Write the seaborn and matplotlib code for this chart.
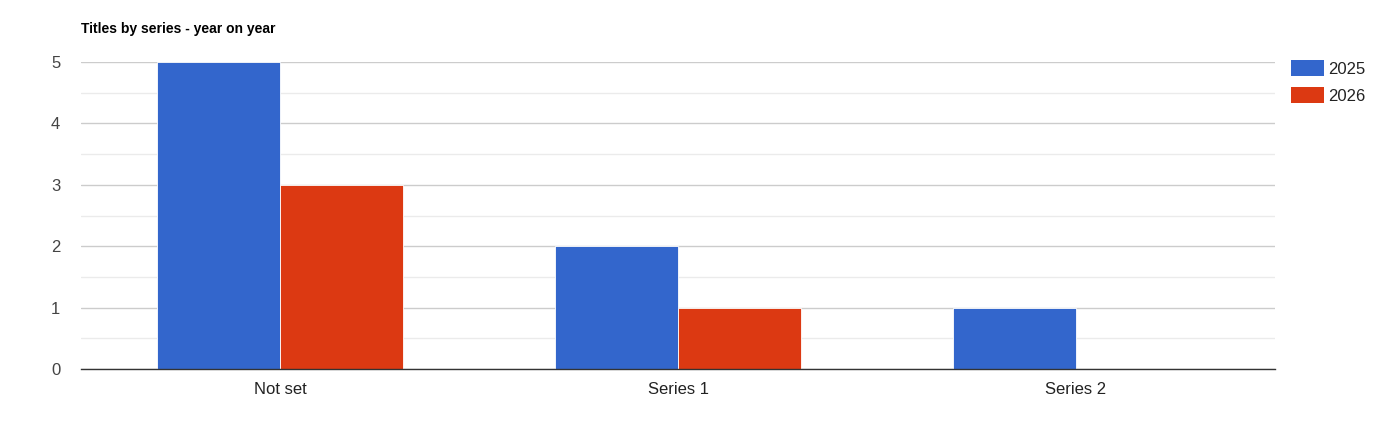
import pandas as pd
import matplotlib.pyplot as plt
import seaborn as sns
from matplotlib.patches import Patch

# Datos
series = ["Not set", "Series 1", "Series 2"]
anios = ["2025", "2026"]
titulos_2025 = [5, 2, 1]
titulos_2026 = [3, 1, 0]
colores = ["#3366CC", "#DC3912"]

df = pd.DataFrame({
    "serie": series * 2,
    "anio": [anios[0]] * 3 + [anios[1]] * 3,
    "titulos": titulos_2025 + titulos_2026,
})

sns.set_style("white")
plt.rcParams["font.family"] = ["Liberation Sans", "DejaVu Sans"]

fig = plt.figure(figsize=(13.91, 4.48), dpi=100)
ax = fig.add_axes([81 / 1391, 1 - 369 / 448, 1194 / 1391, 307 / 448])

sns.barplot(data=df, x="serie", y="titulos", hue="anio", palette=colores,
            saturation=1, width=0.616, edgecolor="white", linewidth=0.6,
            ax=ax, legend=False)

ax.set_ylim(0, 5)
ax.set_xlim(-0.5, 2.5)
ax.set_yticks([0, 1, 2, 3, 4, 5])
ax.set_yticks([0.5, 1.5, 2.5, 3.5, 4.5], minor=True)
ax.grid(axis="y", which="major", color="#cccccc", linewidth=1)
ax.grid(axis="y", which="minor", color="#ebebeb", linewidth=1)
ax.set_axisbelow(True)
for lado in ["top", "right", "left"]:
    ax.spines[lado].set_visible(False)
ax.spines["bottom"].set_color("#333333")
ax.spines["bottom"].set_linewidth(1)
ax.tick_params(axis="both", which="both", length=0, labelsize=12, colors="#444444")
ax.tick_params(axis="y", pad=15)
ax.tick_params(axis="x", pad=9)
for t in ax.get_xticklabels():
    t.set_color("#222222")
ax.set_xlabel("")
ax.set_ylabel("")

fig.text(81 / 1391, 1 - 29 / 448, "Titles by series - year on year",
         fontsize=10, fontweight="bold", color="#000000", va="center", ha="left")

handles = [Patch(facecolor=c, edgecolor="none") for c in colores]
fig.legend(handles, anios, loc="upper left", bbox_to_anchor=(1291 / 1391, 1 - 60 / 448),
           frameon=False, fontsize=12, handlelength=2.0, handleheight=1.1,
           handletextpad=0.2, labelspacing=0.65, borderaxespad=0, borderpad=0,
           labelcolor="#222222")

fig.savefig("out.png", dpi=100)
